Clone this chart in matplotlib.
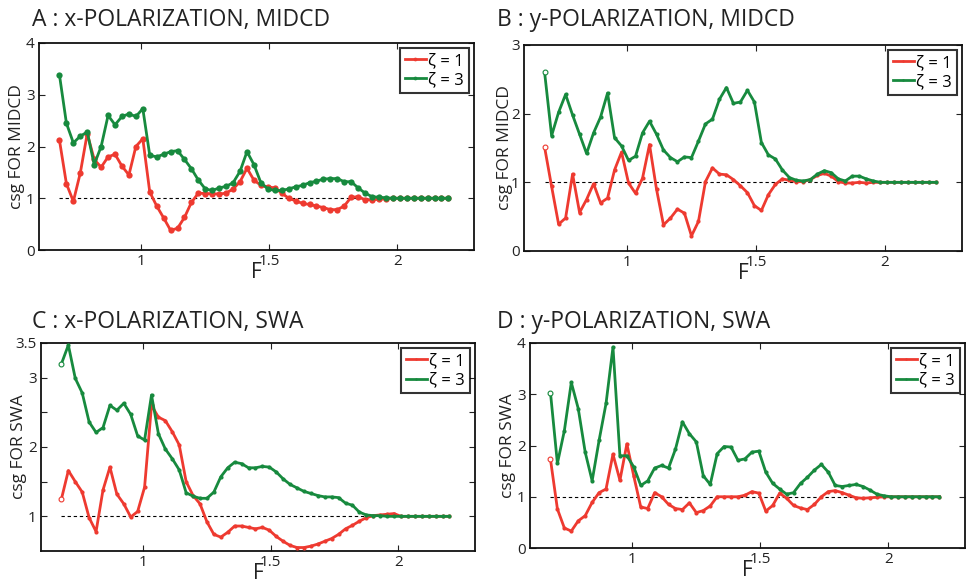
import numpy as np
import matplotlib
matplotlib.use("Agg")
import matplotlib.pyplot as plt
import matplotlib.transforms as mtrans

plt.rcParams['font.family'] = ['Open Sans', 'DejaVu Sans']

# x grid (F)
F = np.linspace(0.68, 2.2, 57)

# Panel A: x-POLARIZATION, MIDCD
a_z1 = [2.12, 1.28, 0.94, 1.49, 2.25, 1.75, 1.60, 1.80, 1.85, 1.62, 1.45, 2.00, 2.15, 1.12, 0.85,
        0.62, 0.38, 0.42, 0.63, 0.92, 1.10, 1.09, 1.09, 1.08, 1.10, 1.18, 1.32, 1.58, 1.35, 1.25,
        1.22, 1.20, 1.10, 1.00, 0.95, 0.90, 0.88, 0.85, 0.82, 0.78, 0.78, 0.85, 1.02, 1.03, 0.97,
        0.97, 0.98, 0.99, 1.0, 1.0, 1.0, 1.0, 1.0, 1.0, 1.0, 1.0, 1.0]
a_z3 = [3.38, 2.45, 2.07, 2.20, 2.28, 1.65, 2.00, 2.60, 2.42, 2.58, 2.63, 2.58, 2.73, 1.83, 1.80,
        1.85, 1.90, 1.92, 1.75, 1.57, 1.35, 1.18, 1.15, 1.20, 1.23, 1.30, 1.52, 1.90, 1.65, 1.30,
        1.18, 1.15, 1.15, 1.18, 1.22, 1.25, 1.30, 1.33, 1.37, 1.38, 1.38, 1.32, 1.32, 1.20, 1.10,
        1.03, 1.02, 1.01, 1.0, 1.0, 1.0, 1.0, 1.0, 1.0, 1.0, 1.0, 1.0]

# Panel B: y-POLARIZATION, MIDCD
b_z1 = [1.51, 0.94, 0.39, 0.48, 1.12, 0.56, 0.75, 0.98, 0.70, 0.77, 1.18, 1.44, 0.99, 0.84, 1.06,
        1.55, 0.90, 0.38, 0.48, 0.61, 0.55, 0.22, 0.43, 1.01, 1.21, 1.12, 1.11, 1.04, 0.95, 0.85,
        0.66, 0.59, 0.82, 0.97, 1.05, 1.03, 1.01, 1.01, 1.04, 1.10, 1.13, 1.09, 1.01, 0.99, 0.99,
        1.0, 0.99, 1.0, 1.0, 1.0, 1.0, 1.0, 1.0, 1.0, 1.0, 1.0, 1.0]
b_z3 = [2.60, 1.68, 2.02, 2.28, 1.98, 1.70, 1.42, 1.72, 1.95, 2.30, 1.65, 1.53, 1.32, 1.38, 1.72,
        1.89, 1.70, 1.47, 1.36, 1.30, 1.37, 1.36, 1.60, 1.85, 1.92, 2.21, 2.38, 2.15, 2.17, 2.34,
        2.17, 1.58, 1.40, 1.34, 1.18, 1.07, 1.03, 1.02, 1.04, 1.12, 1.17, 1.14, 1.05, 1.02, 1.09,
        1.09, 1.05, 1.02, 1.0, 1.0, 1.0, 1.0, 1.0, 1.0, 1.0, 1.0, 1.0]

# Panel C: x-POLARIZATION, SWA
c_z1 = [1.25, 1.66, 1.50, 1.35, 0.98, 0.78, 1.38, 1.71, 1.32, 1.18, 0.99, 1.07, 1.42, 2.60, 2.43,
        2.38, 2.22, 2.03, 1.50, 1.30, 1.18, 0.92, 0.74, 0.70, 0.77, 0.86, 0.86, 0.84, 0.82, 0.84,
        0.80, 0.71, 0.64, 0.58, 0.55, 0.55, 0.57, 0.60, 0.64, 0.68, 0.74, 0.82, 0.87, 0.93, 0.98,
        1.01, 1.02, 1.03, 1.04, 1.0, 1.0, 1.0, 1.0, 1.0, 1.0, 1.0, 1.0]
c_z3 = [3.20, 3.47, 2.99, 2.78, 2.36, 2.21, 2.28, 2.60, 2.53, 2.63, 2.47, 2.16, 2.10, 2.75, 2.19,
        1.97, 1.83, 1.67, 1.34, 1.29, 1.26, 1.26, 1.35, 1.57, 1.70, 1.78, 1.76, 1.70, 1.70, 1.72,
        1.71, 1.64, 1.54, 1.46, 1.41, 1.36, 1.33, 1.30, 1.28, 1.28, 1.27, 1.19, 1.16, 1.06, 1.02,
        1.01, 1.01, 1.0, 1.0, 1.0, 1.0, 1.0, 1.0, 1.0, 1.0, 1.0, 1.0]

# Panel D: y-POLARIZATION, SWA
d_z1 = [1.73, 0.76, 0.39, 0.33, 0.53, 0.63, 0.89, 1.08, 1.15, 1.83, 1.32, 2.03, 1.40, 0.80, 0.77,
        1.08, 1.00, 0.85, 0.77, 0.75, 0.88, 0.69, 0.73, 0.82, 1.00, 1.00, 1.00, 1.00, 1.03, 1.10,
        1.07, 0.72, 0.83, 1.07, 0.97, 0.83, 0.78, 0.75, 0.85, 1.00, 1.10, 1.12, 1.08, 1.03, 0.98,
        0.97, 0.98, 0.99, 1.0, 1.0, 1.0, 1.0, 1.0, 1.0, 1.0, 1.0, 1.0]
d_z3 = [3.03, 1.65, 2.29, 3.23, 2.72, 1.87, 1.31, 2.10, 2.82, 3.92, 1.80, 1.80, 1.58, 1.22, 1.31,
        1.56, 1.61, 1.56, 1.93, 2.46, 2.23, 2.07, 1.41, 1.24, 1.84, 1.98, 1.97, 1.71, 1.74, 1.87,
        1.89, 1.48, 1.26, 1.15, 1.05, 1.08, 1.26, 1.38, 1.52, 1.63, 1.48, 1.22, 1.20, 1.22, 1.24,
        1.20, 1.13, 1.05, 1.02, 1.0, 1.0, 1.0, 1.0, 1.0, 1.0, 1.0, 1.0]

titles = ["A : x-POLARIZATION, MIDCD", "B : y-POLARIZATION, MIDCD",
          "C : x-POLARIZATION, SWA", "D : y-POLARIZATION, SWA"]
ylabels = ["csg FOR MIDCD", "csg FOR MIDCD", "csg FOR SWA", "csg FOR SWA"]
legend_labels = ["ζ = 1", "ζ = 3"]
xticks = [1, 1.5, 2]
xticklabels = ["1", "1.5", "2"]

RED = "#EE3A30"
GREEN = "#178A3E"

fig = plt.figure(figsize=(9.68, 5.82), dpi=100)
W, H = 968, 582
boxes = [(39, 474, 43, 250), (524, 962, 45, 251), (41, 475, 343, 551), (530, 965, 343, 548)]
title_pos = [(32, 20), (497, 20), (32, 322), (497, 322)]
ylabel_x = [17, 505, 19, 508]

series = [(a_z1, a_z3), (b_z1, b_z3), (c_z1, c_z3), (d_z1, d_z3)]
ylims = [(0, 4), (0, 3), (0.5, 3.5), (0, 4)]
yticks_list = [([0, 1, 2, 3, 4], ["0", "1", "2", "3", "4"]),
               ([0, 1, 2, 3], ["0", "1", "2", "3"]),
               ([1, 1.5, 2, 2.5, 3, 3.5], ["1", "", "2", "", "3", "3.5"]),
               ([0, 1, 2, 3, 4], ["0", "1", "2", "3", "4"])]
msizes = [4.5, 3, 3, 3]

for k in range(4):
    l, r, t, b = boxes[k]
    ax = fig.add_axes([l / W, 1 - b / H, (r - l) / W, (b - t) / H])
    z1, z3 = series[k]
    ax.plot([F[0], F[-1]], [1, 1], ls=(0, (3, 2.5)), color="black", lw=0.8, zorder=1)
    ms = msizes[k]
    ax.plot(F, z1, color=RED, lw=2, marker="o", ms=ms, mew=0, label=legend_labels[0], zorder=3)
    ax.plot(F, z3, color=GREEN, lw=2, marker="o", ms=ms, mew=0, label=legend_labels[1], zorder=4)
    if k > 0:
        ax.plot([F[0]], [z1[0]], ls="none", marker="o", ms=3.5, mfc="white", mec=RED, mew=0.8, zorder=5)
        ax.plot([F[0]], [z3[0]], ls="none", marker="o", ms=3.5, mfc="white", mec=GREEN, mew=0.8, zorder=5)
    ax.set_xlim(0.6, 2.3)
    ax.set_ylim(*ylims[k])
    ax.set_xticks(xticks)
    ax.set_xticklabels(xticklabels)
    ax.set_yticks(yticks_list[k][0])
    ax.set_yticklabels(yticks_list[k][1])
    ax.tick_params(direction="in", top=True, right=True, length=4, width=0.8,
                   labelsize=11, colors="#222222", pad=3)
    for s in ax.spines.values():
        s.set_linewidth(1.3)
        s.set_color("#111111")
    ax.set_xlabel("F", fontsize=15, labelpad=-5, color="#222222")
    ax.set_ylabel(ylabels[k], fontsize=12.5, color="#222222", va="center")
    ax.yaxis.set_label_coords(ylabel_x[k] / W, 0.5,
                              transform=mtrans.blended_transform_factory(fig.transFigure, ax.transAxes))
    leg = ax.legend(loc="upper right", fontsize=12, frameon=True, fancybox=False,
                    handlelength=1.25, handletextpad=0.15, borderpad=0.3, labelspacing=0.2,
                    borderaxespad=0.3, markerscale=0.6)
    leg.get_frame().set_edgecolor("black")
    leg.get_frame().set_linewidth(1.5)
    tx, ty = title_pos[k]
    fig.text(tx / W, 1 - ty / H, titles[k], fontsize=16.5, va="center", ha="left", color="#222222")

fig.savefig("out.png", dpi=100)
